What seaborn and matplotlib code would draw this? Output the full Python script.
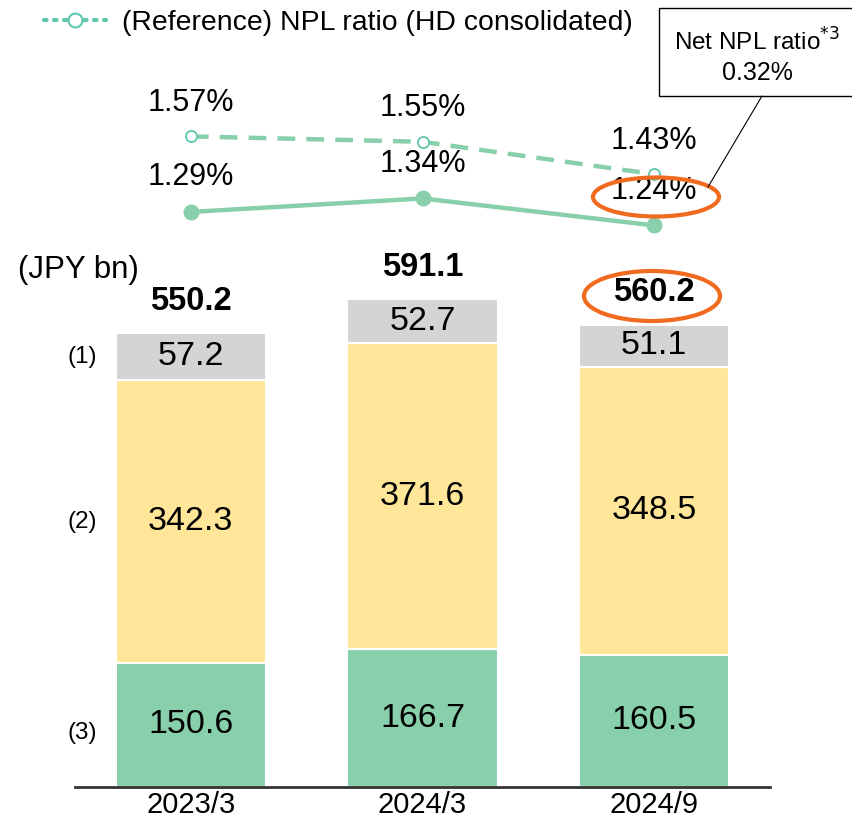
import numpy as np
import pandas as pd
import matplotlib
matplotlib.use('Agg')
import matplotlib.pyplot as plt
from matplotlib.lines import Line2D
from matplotlib.patches import Ellipse, Rectangle
import seaborn as sns

# Data
periods = ['2023/3', '2024/3', '2024/9']
seg3 = [150.6, 166.7, 160.5]   # (3) bottom, green
seg2 = [342.3, 371.6, 348.5]   # (2) middle, yellow
seg1 = [57.2, 52.7, 51.1]      # (1) top, grey
totals = [550.2, 591.1, 560.2]
npl_ratio = [1.29, 1.34, 1.24]          # solid line
npl_ref = [1.57, 1.55, 1.43]            # (Reference) HD consolidated, dashed
row_labels = ['(1)', '(2)', '(3)']
net_npl_text = '0.32%'

c_green = '#88CFAB'
c_yellow = '#FFE699'
c_grey = '#D4D4D4'
c_teal = '#5DC6AC'
c_orange = '#F06A1F'

sns.set_style('white')
plt.rcParams['font.family'] = ['Liberation Sans', 'DejaVu Sans']
plt.rcParams['text.color'] = 'black'
plt.rcParams['xtick.color'] = 'black'

df = pd.DataFrame({'period': periods, 's3': seg3, 's2': seg2, 's1': seg1})
df['b2'] = df['s3']
df['b1'] = df['s3'] + df['s2']

fig = plt.figure(figsize=(8.52, 8.27), dpi=100)
W, H = 852, 827

# --- bar axes ---
ax = fig.add_axes([75 / W, 40 / H, 695 / W, 547 / H])
sns.barplot(data=df, x='period', y='s3', color=c_green, width=0.65, ax=ax,
            edgecolor='white', linewidth=1.5, saturation=1)
sns.barplot(data=df, x='period', y='s2', bottom=df['b2'], color=c_yellow, width=0.65,
            ax=ax, edgecolor='white', linewidth=1.5, saturation=1)
sns.barplot(data=df, x='period', y='s1', bottom=df['b1'], color=c_grey, width=0.65,
            ax=ax, edgecolor='white', linewidth=1.5, saturation=1)
ax.set_xlim(-0.5, 2.5)
ax.set_ylim(0, 663)
ax.set_xlabel('')
ax.set_ylabel('')
ax.set_yticks([])
for s in ['top', 'right', 'left']:
    ax.spines[s].set_visible(False)
ax.spines['bottom'].set_color('#333333')
ax.spines['bottom'].set_linewidth(2)
ax.tick_params(axis='x', length=0, labelsize=21, pad=3)

for i in range(len(periods)):
    ax.text(i, seg3[i] / 2, f'{seg3[i]:.1f}', ha='center', va='center', fontsize=24.5)
    ax.text(i, seg3[i] + seg2[i] / 2, f'{seg2[i]:.1f}', ha='center', va='center', fontsize=24.5)
    ax.text(i, seg3[i] + seg2[i] + seg1[i] / 2, f'{seg1[i]:.1f}', ha='center', va='center', fontsize=24.5)
    ax.annotate(f'{totals[i]:.1f}', (i, totals[i]), xytext=(0, 23), textcoords='offset points',
                ha='center', va='center', fontsize=23.5, fontweight='bold', annotation_clip=False)

# row labels next to first bar
row_y = [seg3[0] + seg2[0] + seg1[0] / 2, seg3[0] + seg2[0] / 2, seg3[0] / 2 - 10]
for lab, yy in zip(row_labels, row_y):
    ax.text(-0.47, yy, lab, ha='center', va='center', fontsize=17.5, clip_on=False)

fig.text(18 / W, 1 - 270 / H, '(JPY bn)', ha='left', va='center', fontsize=22.5)

# --- line axes ---
lx = fig.add_axes([75 / W, 1 - 240 / H, 695 / W, 180 / H])
xs = np.arange(len(periods))
sns.lineplot(x=xs, y=npl_ref, ax=lx, color=c_green, linewidth=3.2, linestyle=(0, (4, 2.5)))
lx.plot(xs, npl_ref, linestyle='none', marker='o', markersize=8,
        markerfacecolor='white', markeredgecolor=c_teal, markeredgewidth=1.3)
sns.lineplot(x=xs, y=npl_ratio, ax=lx, color=c_green, linewidth=3.2,
             marker='o', markersize=11.5, markeredgewidth=0)
lx.set_xlim(-0.5, 2.5)
lx.set_ylim(1.186, 1.853)
lx.axis('off')
for i in range(len(periods)):
    lx.annotate(f'{npl_ref[i]:.2f}%', (xs[i], npl_ref[i]), xytext=(0, 24), textcoords='offset points',
                ha='center', va='center', fontsize=22, annotation_clip=False)
    lx.annotate(f'{npl_ratio[i]:.2f}%', (xs[i], npl_ratio[i]), xytext=(0, 25), textcoords='offset points',
                ha='center', va='center', fontsize=22, annotation_clip=False)

# legend
handle = Line2D([], [], color=c_teal, linestyle=(0, (0.6, 1.8)), linewidth=3,
                dash_capstyle='round', marker='o', markersize=10,
                markerfacecolor='white', markeredgecolor=c_teal, markeredgewidth=1.5)
fig.legend([handle], ['(Reference) NPL ratio (HD consolidated)'], loc='center left',
           bbox_to_anchor=(44 / W, 1 - 23 / H), frameon=False, fontsize=20.4,
           handlelength=2.2, handletextpad=0.55, borderpad=0, borderaxespad=0)

# highlight ellipses
fig.patches.append(Ellipse((656 / W, 1 - 197 / H), 126 / W, 39 / H, transform=fig.transFigure,
                           fill=False, edgecolor=c_orange, linewidth=3))
fig.patches.append(Ellipse((652 / W, 1 - 296 / H), 136 / W, 50 / H, transform=fig.transFigure,
                           fill=False, edgecolor=c_orange, linewidth=3))

# net NPL callout
fig.patches.append(Rectangle((659 / W, 1 - 96 / H), 200 / W, 88 / H, transform=fig.transFigure,
                             fill=True, facecolor='white', edgecolor='black', linewidth=1))
fig.text(757 / W, 1 - 42 / H, 'Net NPL ratio$^{*3}$', ha='center', va='center', fontsize=17.5)
fig.text(757 / W, 1 - 73 / H, net_npl_text, ha='center', va='center', fontsize=18)
fig.lines.append(Line2D([762 / W, 708 / W], [1 - 96 / H, 1 - 187 / H], transform=fig.transFigure,
                        color='black', linewidth=0.8))

fig.savefig('out.png', dpi=100)
